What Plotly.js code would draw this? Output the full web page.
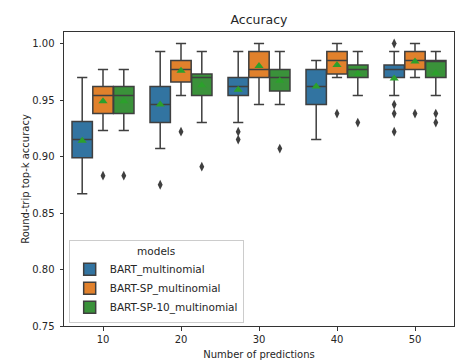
<!DOCTYPE html>
<html>
<head>
<meta charset="utf-8">
<script src="https://cdn.plot.ly/plotly-3.0.1.min.js"></script>
<style>html,body{margin:0;padding:0;background:#fff;}#chart{width:455px;height:363px;}</style>
</head>
<body>
<div id="chart"></div>
<script>
const categories = ['10', '20', '30', '40', '50'];
const models = ['BART_multinomial', 'BART-SP_multinomial', 'BART-SP-10_multinomial'];
const colors = ['#3274a1', '#e1812c', '#3a923a'];

// BART_multinomial
const bartLower  = [0.867, 0.907, 0.930, 0.915, 0.954];
const bartQ1     = [0.899, 0.930, 0.954, 0.946, 0.970];
const bartMedian = [0.915, 0.946, 0.962, 0.962, 0.977];
const bartQ3     = [0.931, 0.962, 0.970, 0.977, 0.981];
const bartUpper  = [0.970, 0.993, 0.993, 0.985, 0.993];
const bartMean   = [0.914, 0.946, 0.959, 0.962, 0.969];
const bartOut    = [[], [0.875], [0.922, 0.915], [], [1.0, 0.946, 0.938, 0.922]];

// BART-SP_multinomial
const spLower  = [0.923, 0.954, 0.946, 0.970, 0.970];
const spQ1     = [0.938, 0.966, 0.970, 0.973, 0.977];
const spMedian = [0.954, 0.977, 0.977, 0.985, 0.985];
const spQ3     = [0.962, 0.985, 0.993, 0.993, 0.993];
const spUpper  = [0.977, 1.000, 1.000, 1.000, 1.000];
const spMean   = [0.949, 0.976, 0.980, 0.981, 0.984];
const spOut    = [[0.883], [0.922], [], [0.938], [0.938]];

// BART-SP-10_multinomial
const sp10Lower  = [0.923, 0.930, 0.946, 0.954, 0.954];
const sp10Q1     = [0.938, 0.954, 0.958, 0.970, 0.970];
const sp10Median = [0.954, 0.970, 0.970, 0.977, 0.985];
const sp10Q3     = [0.962, 0.973, 0.977, 0.981, 0.985];
const sp10Upper  = [0.977, 0.993, 0.993, 0.993, 0.993];
const sp10Mean   = [0.949, 0.963, 0.967, 0.973, 0.974];
const sp10Out    = [[0.883], [0.891], [0.907], [0.930], [0.938, 0.930]];

const stats = [
  {lower: bartLower, q1: bartQ1, median: bartMedian, q3: bartQ3, upper: bartUpper, mean: bartMean, out: bartOut},
  {lower: spLower, q1: spQ1, median: spMedian, q3: spQ3, upper: spUpper, mean: spMean, out: spOut},
  {lower: sp10Lower, q1: sp10Q1, median: sp10Median, q3: sp10Q3, upper: sp10Upper, mean: sp10Mean, out: sp10Out}
];

const groupWidth = 0.8;
const hueWidth = groupWidth / models.length;
const boxTraces = [], pointTraces = [];
stats.forEach((s, m) => {
  const off = -groupWidth / 2 + hueWidth * (m + 0.5);
  const xs = categories.map((c, i) => i + off);
  boxTraces.push({
    type: 'box', name: models[m], x: xs,
    q1: s.q1, median: s.median, q3: s.q3, lowerfence: s.lower, upperfence: s.upper,
    width: hueWidth * 0.98, whiskerwidth: 0.5,
    fillcolor: colors[m], line: {color: '#3f3f3f', width: 1.5},
    boxpoints: false, hoverinfo: 'skip', showlegend: true
  });
  const ox = [], oy = [];
  s.out.forEach((arr, i) => arr.forEach(v => { ox.push(i + off); oy.push(v); }));
  pointTraces.push({
    type: 'scatter', mode: 'markers', x: ox, y: oy, showlegend: false, hoverinfo: 'skip',
    marker: {symbol: 'diamond-tall', size: 7, color: '#3f3f3f'}
  });
  pointTraces.push({
    type: 'scatter', mode: 'markers', x: xs, y: s.mean, showlegend: false, hoverinfo: 'skip',
    marker: {symbol: 'triangle-up', size: 8, color: '#2ca02c'}
  });
});

const font = {family: 'DejaVu Sans', size: 10, color: '#262626'};
const legendFont = {family: 'DejaVu Sans', size: 10.5, color: '#262626'};
const layout = {
  width: 455, height: 363,
  margin: {l: 64, r: 1, t: 32, b: 37},
  paper_bgcolor: '#fff', plot_bgcolor: '#fff',
  font: font,
  title: {text: 'Accuracy', font: {family: 'DejaVu Sans', size: 12.5, color: '#262626'},
          xref: 'paper', x: 0.5, xanchor: 'center', yref: 'container', y: 0.947, yanchor: 'middle'},
  xaxis: {
    range: [-0.5, 4.5], tickvals: categories.map((c, i) => i), ticktext: categories,
    showgrid: false, zeroline: false, showline: true, linecolor: '#333', linewidth: 1, mirror: true,
    ticks: 'outside', ticklen: 3.5, tickcolor: '#333', tickfont: font,
    title: {text: 'Number of predictions', font: font, standoff: 7}
  },
  yaxis: {
    range: [0.75, 1.0102], tickvals: [0.75, 0.80, 0.85, 0.90, 0.95, 1.00], tickformat: '.2f',
    showgrid: false, zeroline: false, showline: true, linecolor: '#333', linewidth: 1, mirror: true,
    ticks: 'outside', ticklen: 3.5, tickcolor: '#333', tickfont: font, ticklabelstandoff: 3,
    automargin: true,
    title: {text: 'Round-trip top-k accuracy', font: font, standoff: 0}
  },
  showlegend: true,
  legend: {
    x: 0.012, y: 0.01, xanchor: 'left', yanchor: 'bottom',
    bgcolor: 'rgba(255,255,255,0.8)', bordercolor: '#cccccc', borderwidth: 1,
    font: legendFont, title: {text: 'models', side: 'top center', font: legendFont},
    tracegroupgap: 0, itemwidth: 30
  }
};

Plotly.newPlot('chart', boxTraces.concat(pointTraces), layout, {displayModeBar: false, staticPlot: true});
</script>
</body>
</html>
